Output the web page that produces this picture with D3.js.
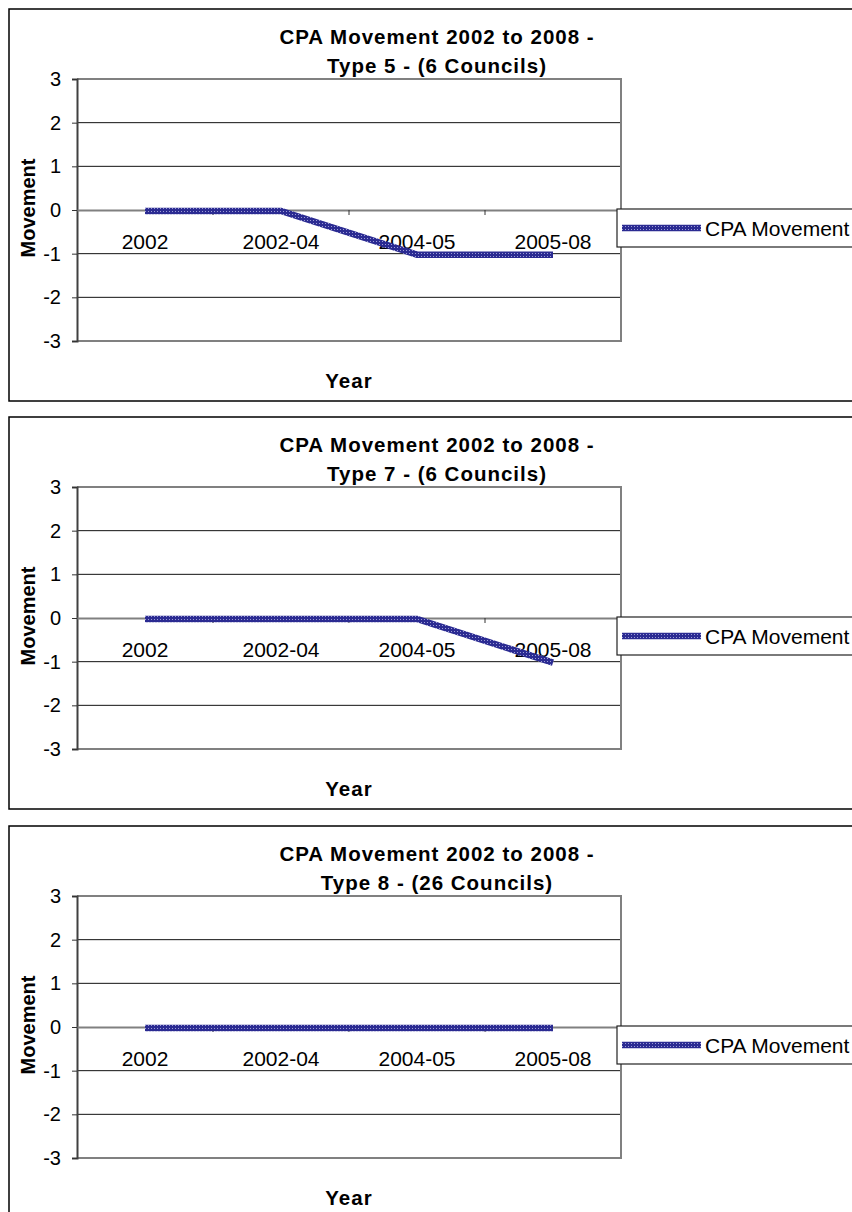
<!DOCTYPE html>
<html>
<head>
<meta charset="utf-8">
<script src="https://cdn.jsdelivr.net/npm/d3@7"></script>
<style>
  body { margin: 0; background: #fff; }
  svg { display: block; font-family: "Liberation Sans", Arial, sans-serif; }
</style>
</head>
<body>
<div id="chart"></div>
<script>
// data
var categories = ["2002", "2002-04", "2004-05", "2005-08"];
var type5Values = [0, 0, -1, -1];
var type7Values = [0, 0, 0, -1];
var type8Values = [0, 0, 0, 0];
var yTicks = [-3, -2, -1, 0, 1, 2, 3];
var titleLine1 = "CPA Movement 2002 to 2008 -";
var titleLines2 = ["Type 5 - (6 Councils)", "Type 7 - (6 Councils)", "Type 8 - (26 Councils)"];
var seriesName = "CPA Movement";

var panels = [
    { offset: 0, values: type5Values, title2: titleLines2[0] },
    { offset: 408, values: type7Values, title2: titleLines2[1] },
    { offset: 817, values: type8Values, title2: titleLines2[2] }
];

var svg = d3.select("#chart")
    .append("svg")
    .attr("width", 852)
    .attr("height", 1212);

// checkered pattern used for the line
var defs = svg.append("defs");
var pat = defs.append("pattern")
    .attr("id", "checker")
    .attr("patternUnits", "userSpaceOnUse")
    .attr("width", 3)
    .attr("height", 3);
pat.append("rect").attr("width", 3).attr("height", 3).attr("fill", "#2b2b92");
pat.append("rect").attr("x", 1).attr("y", 1).attr("width", 1).attr("height", 1).attr("fill", "#9c9cd6");

var xScale = d3.scaleBand()
    .domain(categories)
    .range([77, 621])
    .padding(0);

var yScale = d3.scaleLinear()
    .domain([-3, 3])
    .range([341, 79]);

panels.forEach(function(p) {
    var g = svg.append("g").attr("transform", "translate(0," + p.offset + ")");

    // chart area border
    g.append("rect")
        .attr("x", 9).attr("y", 9)
        .attr("width", 870).attr("height", 392)
        .attr("fill", "#fff")
        .attr("stroke", "#000")
        .attr("stroke-width", 1.5);

    // gridlines
    g.selectAll(".grid")
        .data(yTicks.filter(function(d) { return d !== 0 && d !== 3 && d !== -3; }))
        .enter()
        .append("line")
        .attr("x1", 77).attr("x2", 621)
        .attr("y1", function(d) { return yScale(d); })
        .attr("y2", function(d) { return yScale(d); })
        .attr("stroke", "#111")
        .attr("stroke-width", 1);

    // plot area border (top, right, bottom)
    g.append("path")
        .attr("d", "M77," + yScale(3) + "H621V" + yScale(-3) + "H77")
        .attr("fill", "none")
        .attr("stroke", "#808080")
        .attr("stroke-width", 2);

    // y axis
    var yAxis = d3.axisLeft(yScale)
        .tickValues(yTicks)
        .tickFormat(function(d) { return String(d); })
        .tickSize(5)
        .tickPadding(11);
    var ya = g.append("g").attr("transform", "translate(77,0)").call(yAxis);
    ya.select(".domain").attr("stroke", "#404040").attr("stroke-width", 2);
    ya.selectAll(".tick line").attr("stroke", "#333");
    ya.selectAll("text").attr("font-size", 20).attr("fill", "#000")
        .style("font-family", "'Liberation Sans', Arial, sans-serif");

    // x axis at zero, labels at band centres
    var xAxis = d3.axisBottom(xScale).tickSize(0).tickPadding(24);
    var xa = g.append("g").attr("transform", "translate(0," + yScale(0) + ")").call(xAxis);
    xa.select(".domain").attr("stroke", "#808080").attr("stroke-width", 2);
    xa.selectAll("text").attr("font-size", 21).attr("fill", "#000")
        .style("font-family", "'Liberation Sans', Arial, sans-serif");

    // tick marks at category boundaries
    g.selectAll(".xtick")
        .data(categories.slice(1))
        .enter()
        .append("line")
        .attr("x1", function(d) { return xScale(d); })
        .attr("x2", function(d) { return xScale(d); })
        .attr("y1", yScale(0))
        .attr("y2", yScale(0) + 5)
        .attr("stroke", "#333");

    // the line
    var line = d3.line()
        .x(function(d, i) { return xScale(categories[i]) + xScale.bandwidth() / 2; })
        .y(function(d) { return yScale(d) + 1; });

    g.append("path")
        .datum(p.values)
        .attr("d", line)
        .attr("fill", "none")
        .attr("stroke", "url(#checker)")
        .attr("stroke-width", 6.5);

    // titles
    g.append("text").text(titleLine1)
        .attr("x", 437).attr("y", 44)
        .attr("text-anchor", "middle")
        .attr("font-size", 20.5).attr("font-weight", "bold")
        .attr("letter-spacing", 1);
    g.append("text").text(p.title2)
        .attr("x", 437).attr("y", 73)
        .attr("text-anchor", "middle")
        .attr("font-size", 20.5).attr("font-weight", "bold")
        .attr("letter-spacing", 1);

    g.append("text").text("Year")
        .attr("x", 349).attr("y", 388)
        .attr("text-anchor", "middle")
        .attr("font-size", 20.5).attr("font-weight", "bold")
        .attr("letter-spacing", 1);

    g.append("text").text("Movement")
        .attr("transform", "translate(35,208) rotate(-90)")
        .attr("text-anchor", "middle")
        .attr("font-size", 20).attr("font-weight", "bold");

    // legend
    g.append("rect")
        .attr("x", 617).attr("y", 209)
        .attr("width", 260).attr("height", 38)
        .attr("fill", "#fff")
        .attr("stroke", "#222")
        .attr("stroke-width", 1.2);
    g.append("line")
        .attr("x1", 622).attr("x2", 701)
        .attr("y1", 228).attr("y2", 228)
        .attr("stroke", "url(#checker)")
        .attr("stroke-width", 6.5);
    g.append("text").text(seriesName)
        .attr("x", 705).attr("y", 236)
        .attr("font-size", 21);
});
</script>
</body>
</html>
